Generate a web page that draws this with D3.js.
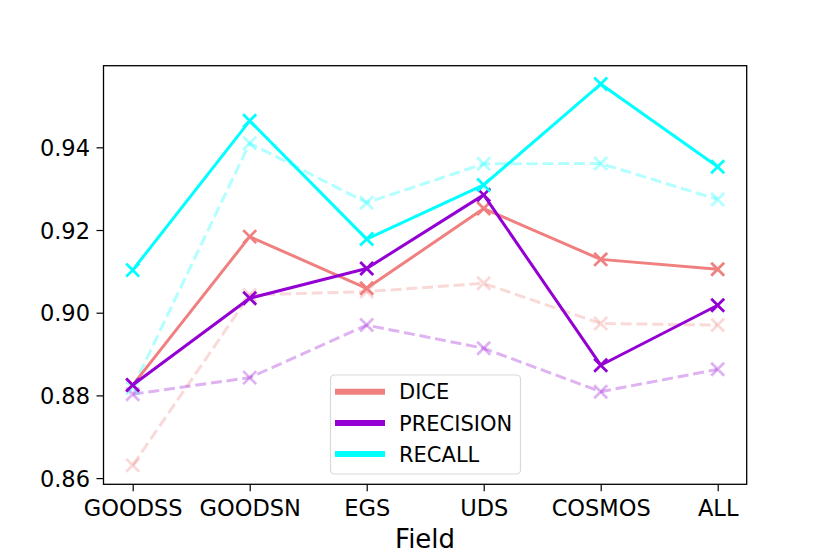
<!DOCTYPE html>
<html>
<head>
<meta charset="utf-8">
<script src="https://cdn.jsdelivr.net/npm/d3@7"></script>
<style>
  body { margin: 0; background: #fff; }
  svg { display: block; font-family: "DejaVu Sans", sans-serif; }
</style>
</head>
<body>
<svg id="chart" width="830" height="554"></svg>
<script>
const fields = ['GOODSS', 'GOODSN', 'EGS', 'UDS', 'COSMOS', 'ALL'];
const yTicks = [0.86, 0.88, 0.90, 0.92, 0.94];

// solid lines
const dice = [0.8825, 0.9184, 0.9059, 0.9252, 0.9129, 0.9105];
const precision = [0.8825, 0.9035, 0.9107, 0.9285, 0.8873, 0.9018];
const recall = [0.9103, 0.9464, 0.9178, 0.9309, 0.9553, 0.9353];

// dashed (faded) lines
const diceB = [0.8631, 0.9043, 0.9051, 0.9071, 0.8974, 0.8970];
const precisionB = [0.8803, 0.8843, 0.8970, 0.8914, 0.8809, 0.8863];
const recallB = [0.8818, 0.9410, 0.9266, 0.9360, 0.9361, 0.9274];

const names = ['DICE', 'PRECISION', 'RECALL'];
const colors = ['#f08080', '#9400d3', '#00ffff'];

const margin = { left: 103.5, right: 746.7, top: 65.7, bottom: 484.3 };

const svg = d3.select('#chart');

const x = d3.scalePoint()
  .domain(fields)
  .range([132.7, 717.7]);

const y = d3.scaleLinear()
  .domain([0.8585, 0.95974])
  .range([margin.bottom, margin.top]);

const line = d3.line()
  .x((d, i) => x(fields[i]))
  .y(d => y(d));

function drawSeries(values, color, dashed) {
  const alpha = dashed ? 0.3 : 1;
  const g = svg.append('g');
  g.append('path')
    .datum(values)
    .attr('d', line)
    .attr('fill', 'none')
    .attr('stroke', color)
    .attr('stroke-opacity', alpha)
    .attr('stroke-width', 3)
    .attr('stroke-dasharray', dashed ? '11,4.8' : null)
    .attr('stroke-linejoin', 'round');
  const ms = 6.5;
  values.forEach((v, i) => {
    const cx = x(fields[i]);
    const cy = y(v);
    g.append('path')
      .attr('d', `M${cx - ms},${cy - ms}L${cx + ms},${cy + ms}M${cx - ms},${cy + ms}L${cx + ms},${cy - ms}`)
      .attr('stroke', color)
      .attr('stroke-width', 2.8)
      .attr('opacity', alpha)
      .attr('fill', 'none');
  });
}

[diceB, precisionB, recallB].forEach((s, i) => drawSeries(s, colors[i], true));
[dice, precision, recall].forEach((s, i) => drawSeries(s, colors[i], false));

// axes
const xAxis = d3.axisBottom(x).tickSize(7).tickPadding(6);
const yAxis = d3.axisLeft(y).tickValues(yTicks).tickFormat(d3.format('.2f')).tickSize(7).tickPadding(6);

const gx = svg.append('g')
  .attr('transform', `translate(0,${margin.bottom})`)
  .call(xAxis);
gx.select('.domain').remove();
gx.selectAll('line').attr('stroke', '#000').attr('stroke-width', 1.2);
gx.selectAll('text')
  .attr('font-size', 22.5)
  .attr('font-family', '"DejaVu Sans", sans-serif')
  .attr('fill', '#000')
  .attr('dy', null)
  .attr('y', 31.7);

const gy = svg.append('g')
  .attr('transform', `translate(${margin.left},0)`)
  .call(yAxis);
gy.select('.domain').remove();
gy.selectAll('line').attr('stroke', '#000').attr('stroke-width', 1.2);
gy.selectAll('text')
  .attr('font-size', 22.5)
  .attr('font-family', '"DejaVu Sans", sans-serif')
  .attr('fill', '#000')
  .attr('x', -13.5)
  .attr('dy', '0.36em');

svg.append('rect')
  .attr('x', margin.left)
  .attr('y', margin.top)
  .attr('width', margin.right - margin.left)
  .attr('height', margin.bottom - margin.top)
  .attr('fill', 'none')
  .attr('stroke', '#000')
  .attr('stroke-width', 1.3);

svg.append('text')
  .attr('x', (margin.left + margin.right) / 2)
  .attr('y', 548)
  .attr('text-anchor', 'middle')
  .attr('font-size', 26)
  .attr('fill', '#000')
  .text('Field');

// legend
const legend = svg.append('g');
legend.append('rect')
  .attr('x', 330.5)
  .attr('y', 375)
  .attr('width', 190)
  .attr('height', 99)
  .attr('rx', 4)
  .attr('fill', '#fff')
  .attr('fill-opacity', 0.8)
  .attr('stroke', '#d9d9d9')
  .attr('stroke-width', 1.2);

names.forEach((n, i) => {
  const ly = 391.7 + i * 31.2;
  legend.append('line')
    .attr('x1', 335).attr('x2', 385)
    .attr('y1', ly).attr('y2', ly)
    .attr('stroke', colors[i])
    .attr('stroke-width', 6);
  legend.append('text')
    .attr('x', 399)
    .attr('y', ly + 7.6)
    .attr('font-size', 21)
    .attr('fill', '#000')
    .text(n);
});
</script>
</body>
</html>
